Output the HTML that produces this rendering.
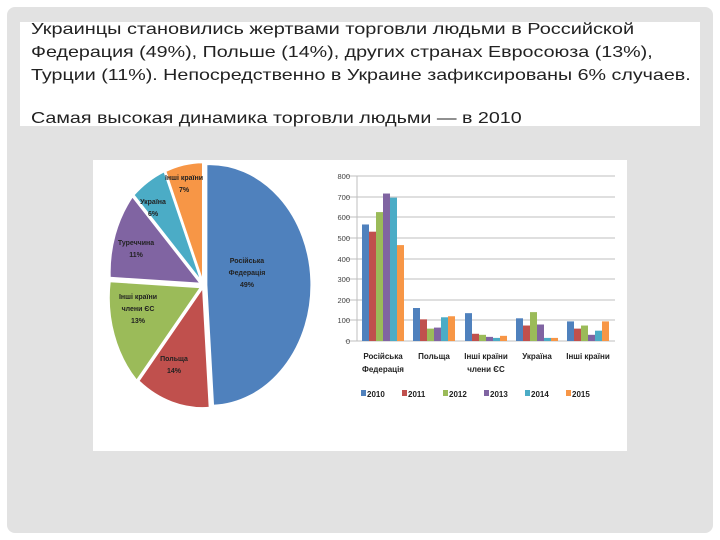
<!DOCTYPE html><html><head><meta charset="utf-8"><style>
body{margin:0;width:720px;height:540px;background:#fff;overflow:hidden;font-family:"Liberation Sans","DejaVu Sans",sans-serif}
.panel{position:absolute;left:7px;top:7px;width:706px;height:526px;background:#e2e2e2;border-radius:8px}
.tb{position:absolute;left:20px;top:22px;width:680px;height:104px;background:#fff}
.t{position:absolute;left:31px;font-size:16px;color:#222;white-space:nowrap;transform:scaleX(1.23);transform-origin:0 0}
.img{position:absolute;left:93px;top:160px;width:534px;height:291px;background:#fff}
</style></head><body>
<div class="panel"></div>
<div class="tb"></div>
<div class="t" style="top:21px;transform:scaleX(1.245)">Украинцы становились жертвами торговли людьми в Российской</div>
<div class="t" style="top:44px">Федерация (49%), Польше (14%), других странах Евросоюза (13%),</div>
<div class="t" style="top:67px">Турции (11%). Непосредственно в Украине зафиксированы 6% случаев.</div>
<div class="t" style="top:110px">Самая высокая динамика торговли людьми — в 2010</div>
<div class="img"></div>
<svg style="position:absolute;left:0;top:0" width="720" height="540" font-family="Liberation Sans, sans-serif" font-size="8">
<g transform="translate(203,285) scale(0.84,1) translate(-207,-285)">
<g stroke="#fff" stroke-width="2.4">
<path d="M207,285 L207,164 A121,121 0 0 1 215,406 Z" fill="#4f81bd" transform="translate(4,0)"/>
<path d="M207,285 L215,406 A121,121 0 0 1 130,379 Z" fill="#c0504d" transform="translate(0,2)"/>
<path d="M207,285 L130,379 A121,121 0 0 1 98,279 Z" fill="#9bbb59" transform="translate(-2,2)"/>
<path d="M207,285 L98,279 A121,121 0 0 1 125,197 Z" fill="#8064a2" transform="translate(-2,-1)"/>
<path d="M207,285 L125,197 A121,121 0 0 1 162,173 Z" fill="#4bacc6" transform="translate(-1,-2)"/>
<path d="M207,285 L162,173 A121,121 0 0 1 207,164 Z" fill="#f79646" transform="translate(0,-2)"/>
</g>
</g>
<g font-weight="bold" fill="#222" font-size="7" text-anchor="middle">
<text x="247" y="263">Російська</text><text x="247" y="275">Федерація</text><text x="247" y="287">49%</text>
<text x="174" y="361">Польща</text><text x="174" y="373">14%</text>
<text x="138" y="299">Інші країни</text><text x="138" y="311">члени ЄС</text><text x="138" y="323">13%</text>
<text x="136" y="245">Туреччина</text><text x="136" y="257">11%</text>
<text x="153" y="204">Україна</text><text x="153" y="216">6%</text>
<text x="184" y="180">Інші країни</text><text x="184" y="192">7%</text>
</g>
<g stroke="#bfbfbf" stroke-width="1">
<line x1="345" y1="176" x2="615" y2="176"/><line x1="345" y1="197" x2="615" y2="197"/><line x1="345" y1="217" x2="615" y2="217"/><line x1="345" y1="238" x2="615" y2="238"/><line x1="345" y1="259" x2="615" y2="259"/><line x1="345" y1="279" x2="615" y2="279"/><line x1="345" y1="300" x2="615" y2="300"/><line x1="345" y1="320" x2="615" y2="320"/><line x1="345" y1="341" x2="615" y2="341"/>
<line x1="357" y1="176" x2="357" y2="341"/>
</g>
<g fill="#444" text-anchor="end" font-size="7.5">
<text x="350" y="179">800</text><text x="350" y="200">700</text><text x="350" y="220">600</text><text x="350" y="241">500</text><text x="350" y="262">400</text><text x="350" y="282">300</text><text x="350" y="303">200</text><text x="350" y="323">100</text><text x="350" y="344">0</text>
</g>
<g id="bars"></g>
<g font-weight="bold" fill="#222" text-anchor="middle" font-size="8">
<text x="383" y="359">Російська</text><text x="383" y="372">Федерація</text>
<text x="434" y="359">Польща</text>
<text x="486" y="359">Інші країни</text><text x="486" y="372">члени ЄС</text>
<text x="537" y="359">Україна</text>
<text x="588" y="359">Інші країни</text>
</g>
<g font-weight="bold" fill="#222" font-size="8">
<rect x="361" y="390" width="5" height="6" fill="#4f81bd"/><text x="367" y="397">2010</text>
<rect x="402" y="390" width="5" height="6" fill="#c0504d"/><text x="408" y="397">2011</text>
<rect x="443" y="390" width="5" height="6" fill="#9bbb59"/><text x="449" y="397">2012</text>
<rect x="484" y="390" width="5" height="6" fill="#8064a2"/><text x="490" y="397">2013</text>
<rect x="525" y="390" width="5" height="6" fill="#4bacc6"/><text x="531" y="397">2014</text>
<rect x="566" y="390" width="5" height="6" fill="#f79646"/><text x="572" y="397">2015</text>
</g>
</svg>
<script>
var d=[[565,530,625,715,695,465],[160,105,60,65,115,120],[135,35,30,20,15,25],[110,75,140,80,15,15],[95,60,75,30,50,95]];
var c=["#4f81bd","#c0504d","#9bbb59","#8064a2","#4bacc6","#f79646"];
var cx=[383,434,486,537,588],g=document.getElementById("bars"),s="";
for(var i=0;i<5;i++)for(var j=0;j<6;j++){var h=d[i][j]*165/800;s+='<rect x="'+(cx[i]-21+j*7)+'" y="'+(341-h)+'" width="7" height="'+h+'" fill="'+c[j]+'"/>';}
g.innerHTML=s;
</script>
</body></html>
